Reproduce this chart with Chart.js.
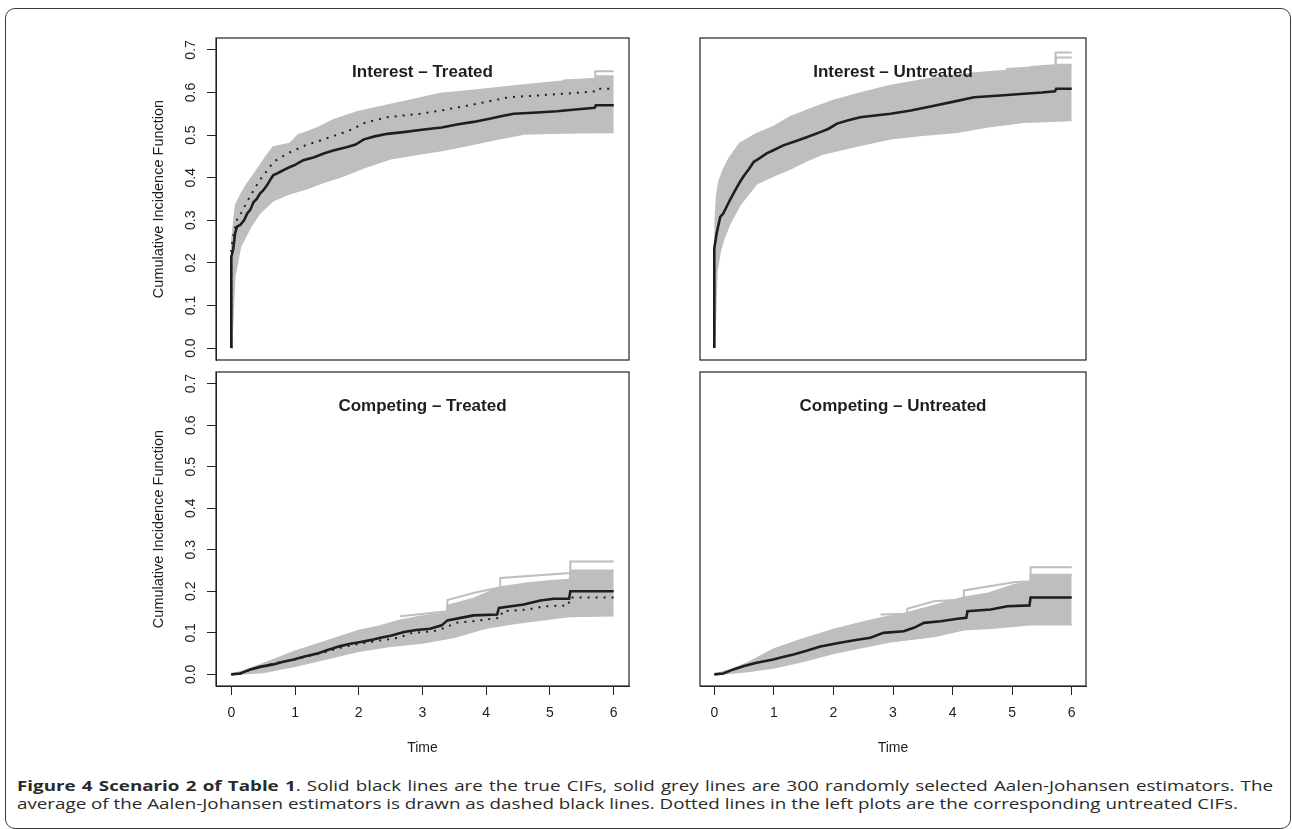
<!DOCTYPE html>
<html lang="en">
<head>
  <meta charset="UTF-8" />
  <title>Figure 4 - Scenario 2 of Table 1</title>
  <script src="https://cdn.jsdelivr.net/npm/chart.js"></script>
  <style>
    body {
      margin: 0;
      background: #fff;
    }
    #page {
      position: relative;
      width: 1292px;
      height: 829px;
      overflow: hidden;
    }
    #frame {
      position: absolute;
      left: 5px;
      top: 8px;
      width: 1286px;
      height: 821px;
      box-sizing: border-box;
      border: 1.5px solid #3a3a3a;
      border-radius: 10px;
    }
    canvas {
      position: absolute;
    }
    #caption {
      position: absolute;
      left: 17px;
      top: 777px;
      font-family: 'Open Sans', 'Noto Sans', sans-serif;
      font-size: 14.5px;
      line-height: 18px;
      color: #2a2a2a;
      transform-origin: 0 0;
    }
    #caption div {
      white-space: nowrap;
    }
    #caption .l1 {
      text-align: justify;
      text-align-last: justify;
    }
  </style>
</head>
<body>
<div id="page">
  <div id="frame"></div>
  <canvas id="tl"></canvas>
  <canvas id="tr"></canvas>
  <canvas id="bl"></canvas>
  <canvas id="br"></canvas>
  <div id="caption">
    <div class="l1"><b>Figure 4 Scenario 2 of Table 1</b>. Solid black lines are the true CIFs, solid grey lines are 300 randomly selected Aalen-Johansen estimators. The</div>
    <div class="l2">average of the Aalen-Johansen estimators is drawn as dashed black lines. Dotted lines in the left plots are the corresponding untreated CIFs.</div>
  </div>
</div>

<script>
// axis ticks
const xTicks = [0, 1, 2, 3, 4, 5, 6];
const yTicks = [0, 0.1, 0.2, 0.3, 0.4, 0.5, 0.6, 0.7];

// Interest - Treated (true CIF + envelope of the grey estimators + stray grey lines)
const intTrtT = [0, 0, 0.03, 0.06, 0.09, 0.14, 0.2, 0.25, 0.3, 0.35, 0.4, 0.45, 0.5, 0.56, 0.61, 0.66, 0.72, 0.77, 0.85, 0.92, 1.0, 1.13, 1.3, 1.45, 1.6, 1.82, 1.95, 2.08, 2.25, 2.45, 2.7, 3.02, 3.3, 3.54, 3.8, 4.07, 4.25, 4.43, 4.8, 5.11, 5.4, 5.7, 5.72, 6];
const intTrtV = [0, 0.214, 0.232, 0.27, 0.285, 0.289, 0.3, 0.316, 0.325, 0.343, 0.35, 0.363, 0.37, 0.382, 0.395, 0.406, 0.41, 0.414, 0.42, 0.425, 0.43, 0.441, 0.448, 0.457, 0.464, 0.472, 0.478, 0.49, 0.497, 0.503, 0.507, 0.513, 0.518, 0.525, 0.531, 0.539, 0.545, 0.55, 0.553, 0.556, 0.56, 0.564, 0.57, 0.57];
const intTrtUpT = [0, 0.01, 0.07, 0.15, 0.25, 0.4, 0.55, 0.66, 0.8, 0.92, 1.05, 1.19, 1.4, 1.6, 1.97, 2.3, 2.7, 3.28, 3.7, 4.07, 4.5, 5.06, 5.4, 5.7, 5.71, 6];
const intTrtUpV = [0, 0.25, 0.335, 0.36, 0.385, 0.417, 0.45, 0.472, 0.476, 0.48, 0.5, 0.507, 0.52, 0.535, 0.554, 0.565, 0.578, 0.597, 0.603, 0.609, 0.616, 0.624, 0.628, 0.632, 0.638, 0.638];
const intTrtLoT = [0, 0.05, 0.14, 0.3, 0.45, 0.66, 0.9, 1.19, 1.45, 1.71, 2.1, 2.5, 2.9, 3.28, 3.7, 4.07, 4.59, 5.0, 5.5, 6];
const intTrtLoV = [0, 0.168, 0.238, 0.285, 0.318, 0.347, 0.362, 0.375, 0.39, 0.402, 0.425, 0.445, 0.455, 0.464, 0.476, 0.488, 0.503, 0.505, 0.506, 0.507];
const intTrtStrayT = [5.2, 5.71, 5.71, 6];
const intTrtStrayV = [0.628, 0.632, 0.65, 0.65];

// Interest - Untreated
const intUntT = [0, 0, 0.04, 0.1, 0.15, 0.2, 0.26, 0.33, 0.43, 0.5, 0.58, 0.66, 0.75, 0.88, 1.0, 1.16, 1.35, 1.55, 1.78, 1.92, 2.06, 2.25, 2.45, 2.7, 2.96, 3.3, 3.63, 4.0, 4.36, 4.8, 5.2, 5.5, 5.72, 5.74, 6];
const intUntV = [0, 0.234, 0.27, 0.308, 0.316, 0.33, 0.347, 0.365, 0.39, 0.405, 0.42, 0.437, 0.445, 0.457, 0.465, 0.476, 0.485, 0.495, 0.507, 0.515, 0.527, 0.535, 0.542, 0.546, 0.55, 0.558, 0.567, 0.578, 0.589, 0.593, 0.597, 0.6, 0.603, 0.609, 0.609];
const intUntUpT = [0, 0.02, 0.04, 0.08, 0.15, 0.25, 0.43, 0.71, 1.0, 1.27, 1.6, 2.0, 2.5, 2.96, 3.6, 4.36, 4.8, 5.2, 5.72, 5.73, 6];
const intUntUpV = [0, 0.3, 0.355, 0.39, 0.417, 0.445, 0.48, 0.503, 0.52, 0.542, 0.56, 0.581, 0.6, 0.616, 0.632, 0.645, 0.65, 0.655, 0.66, 0.665, 0.665];
const intUntLoT = [0, 0.04, 0.1, 0.15, 0.25, 0.43, 0.71, 1.0, 1.27, 1.55, 1.84, 2.4, 2.96, 3.5, 4.08, 4.6, 5.2, 6];
const intUntLoV = [0, 0.18, 0.23, 0.254, 0.29, 0.337, 0.386, 0.405, 0.421, 0.44, 0.457, 0.475, 0.492, 0.5, 0.507, 0.52, 0.531, 0.535];
const intUntStrayT = [4.9, 5.73, 5.73, 6];
const intUntStrayV = [0.655, 0.662, 0.694, 0.694];
const intUntStray2T = [5.3, 5.73, 5.73, 6];
const intUntStray2V = [0.66, 0.664, 0.682, 0.682];

// Competing - Treated
const cmpTrtT = [0, 0.14, 0.3, 0.45, 0.66, 0.8, 0.98, 1.15, 1.35, 1.5, 1.71, 1.85, 2.03, 2.2, 2.34, 2.5, 2.71, 2.9, 3.12, 3.3, 3.39, 3.6, 3.8, 4.17, 4.2, 4.59, 4.85, 5.06, 5.3, 5.32, 6];
const cmpTrtV = [0, 0.002, 0.012, 0.018, 0.024, 0.03, 0.036, 0.043, 0.05, 0.058, 0.068, 0.073, 0.078, 0.083, 0.088, 0.093, 0.102, 0.107, 0.11, 0.118, 0.13, 0.136, 0.142, 0.144, 0.16, 0.168, 0.178, 0.182, 0.182, 0.2, 0.2];
const cmpTrtUpT = [0, 0.2, 0.5, 1.0, 1.5, 2.0, 2.3, 2.65, 3.0, 3.25, 3.38, 3.39, 3.8, 4.22, 4.6, 5.01, 5.31, 5.32, 6];
const cmpTrtUpV = [0, 0.008, 0.025, 0.055, 0.08, 0.105, 0.115, 0.13, 0.14, 0.145, 0.148, 0.165, 0.182, 0.21, 0.218, 0.225, 0.228, 0.25, 0.25];
const cmpTrtLoT = [0, 0.5, 1.0, 1.5, 2.0, 2.5, 3.0, 3.5, 4.0, 4.5, 5.3, 6];
const cmpTrtLoV = [0, 0.005, 0.02, 0.038, 0.056, 0.068, 0.076, 0.09, 0.112, 0.124, 0.14, 0.142];
const cmpTrtStrayT = [2.65, 3.39, 3.39, 3.8, 4.22, 4.22, 5.32, 5.32, 6];
const cmpTrtStrayV = [0.14, 0.152, 0.179, 0.196, 0.21, 0.232, 0.244, 0.272, 0.272];

// Competing - Untreated
const cmpUntT = [0, 0.15, 0.32, 0.5, 0.71, 0.99, 1.15, 1.33, 1.55, 1.78, 2.11, 2.35, 2.62, 2.84, 3.18, 3.35, 3.52, 3.8, 4.08, 4.23, 4.25, 4.64, 4.92, 5.29, 5.31, 6];
const cmpUntV = [0, 0.002, 0.012, 0.02, 0.028, 0.036, 0.042, 0.048, 0.057, 0.067, 0.076, 0.082, 0.088, 0.1, 0.104, 0.112, 0.124, 0.128, 0.134, 0.136, 0.152, 0.156, 0.164, 0.166, 0.185, 0.185];
const cmpUntUpT = [0, 0.3, 0.6, 0.99, 1.5, 2.02, 2.4, 2.79, 3.24, 3.69, 4.19, 4.6, 5.03, 5.3, 5.31, 6];
const cmpUntUpV = [0, 0.012, 0.03, 0.06, 0.085, 0.108, 0.122, 0.135, 0.148, 0.165, 0.185, 0.195, 0.215, 0.222, 0.24, 0.24];
const cmpUntLoT = [0, 0.5, 0.99, 1.5, 2.02, 2.5, 3.0, 3.69, 4.19, 4.7, 5.3, 6];
const cmpUntLoV = [0, 0.006, 0.016, 0.032, 0.052, 0.066, 0.08, 0.092, 0.108, 0.112, 0.12, 0.12];
const cmpUntStrayT = [2.79, 3.24, 3.24, 3.69, 4.19, 4.19, 5.03, 5.31, 5.31, 6];
const cmpUntStrayV = [0.144, 0.146, 0.158, 0.176, 0.18, 0.202, 0.222, 0.224, 0.258, 0.258];

const FONT = "'Liberation Sans', Arial, Helvetica, sans-serif";
const INK = '#1e1e1e';
const GREY = '#bebebe';

const xy = (ts, vs) => ts.map((t, i) => ({ x: t, y: vs[i] }));

// box round the plot region + title inside it (R style)
const panelDecor = {
  id: 'panelDecor',
  afterDatasetsDraw(chart, args, opts) {
    const { ctx, chartArea: a } = chart;
    ctx.save();
    ctx.strokeStyle = '#222';
    ctx.lineWidth = 1.2;
    ctx.strokeRect(a.left, a.top, a.right - a.left, a.bottom - a.top);
    ctx.fillStyle = INK;
    ctx.font = 'bold 17px ' + FONT;
    ctx.textAlign = 'center';
    ctx.textBaseline = 'alphabetic';
    ctx.fillText(opts.title, (a.left + a.right) / 2, a.top + 39);
    ctx.restore();
  }
};

function makePanel(p) {
  const canvas = document.getElementById(p.id);
  const w = p.box.r - p.box.l, h = p.box.b - p.box.t;
  const padB = p.xAxis ? 90 : 16;
  canvas.width = w + 100;
  canvas.height = h + 16 + padB;
  canvas.style.left = (p.box.l - 90) + 'px';
  canvas.style.top = (p.box.t - 16) + 'px';

  const datasets = [{
    label: 'true',
    data: xy(p.trueT, p.trueV),
    borderColor: INK,
    borderWidth: 2.6,
    fill: false
  }];
  if (p.dotT) {
    datasets.push({
      label: 'untreated',
      data: xy(p.dotT, p.dotV),
      borderColor: INK,
      borderWidth: 2,
      borderDash: [2, 6],
      fill: false
    });
  }
  (p.stray || []).forEach(([ts, vs], i) => {
    datasets.push({
      label: 'estimator ' + (i + 1),
      data: xy(ts, vs),
      borderColor: GREY,
      borderWidth: 2,
      fill: false
    });
  });
  datasets.push({
    label: 'upper',
    data: xy(p.upT, p.upV),
    borderColor: GREY,
    backgroundColor: GREY,
    borderWidth: 2,
    fill: '+1'
  }, {
    label: 'lower',
    data: xy(p.loT, p.loV),
    borderColor: GREY,
    borderWidth: 2,
    fill: false
  });

  const tickFont = { family: FONT, size: 14 };

  return new Chart(canvas.getContext('2d'), {
    type: 'line',
    data: { datasets },
    options: {
      responsive: false,
      animation: false,
      events: [],
      elements: { point: { radius: 0 }, line: { tension: 0 } },
      layout: {
        padding: { left: p.yAxis ? 14 : 90, top: 16, right: 10, bottom: p.xAxis ? 10 : 16 }
      },
      plugins: {
        legend: { display: false },
        tooltip: { enabled: false },
        panelDecor: { title: p.title }
      },
      scales: {
        x: {
          type: 'linear',
          min: -0.24,
          max: 6.24,
          display: p.xAxis,
          afterBuildTicks: s => { s.ticks = xTicks.map(v => ({ value: v })); },
          afterFit: s => { if (p.xAxis) s.height = 80; },
          grid: { drawOnChartArea: false, drawTicks: true, tickLength: 9, color: '#222' },
          border: { display: true, color: '#222' },
          ticks: { autoSkip: false, padding: 10, color: INK, font: tickFont, maxRotation: 0, callback: v => String(v) },
          title: { display: true, text: 'Time', color: INK, font: tickFont, padding: { top: 0, bottom: 9 } }
        },
        y: {
          type: 'linear',
          min: -0.028,
          max: 0.728,
          display: p.yAxis,
          afterBuildTicks: s => { s.ticks = yTicks.map(v => ({ value: v })); },
          afterFit: s => { if (p.yAxis) s.width = 76; },
          grid: { drawOnChartArea: false, drawTicks: true, tickLength: 9, color: '#222' },
          border: { display: true, color: '#222' },
          ticks: { autoSkip: false, padding: 6, color: INK, font: tickFont, minRotation: 90, maxRotation: 90, crossAlign: 'center', callback: v => v.toFixed(1) },
          title: { display: true, text: 'Cumulative Incidence Function', color: INK, font: { family: FONT, size: 14.5 }, padding: { top: 10, bottom: 0 } }
        }
      }
    },
    plugins: [panelDecor]
  });
}

makePanel({ id: 'tl', box: { l: 216, t: 38, r: 629, b: 360 }, yAxis: true, xAxis: false, title: 'Interest \u2013 Treated',
  trueT: intTrtT, trueV: intTrtV, dotT: intUntT, dotV: intUntV, upT: intTrtUpT, upV: intTrtUpV, loT: intTrtLoT, loV: intTrtLoV,
  stray: [[intTrtStrayT, intTrtStrayV]] });
makePanel({ id: 'tr', box: { l: 700, t: 38, r: 1086, b: 360 }, yAxis: false, xAxis: false, title: 'Interest \u2013 Untreated',
  trueT: intUntT, trueV: intUntV, upT: intUntUpT, upV: intUntUpV, loT: intUntLoT, loV: intUntLoV,
  stray: [[intUntStrayT, intUntStrayV], [intUntStray2T, intUntStray2V]] });
makePanel({ id: 'bl', box: { l: 216, t: 372, r: 629, b: 686 }, yAxis: true, xAxis: true, title: 'Competing \u2013 Treated',
  trueT: cmpTrtT, trueV: cmpTrtV, dotT: cmpUntT, dotV: cmpUntV, upT: cmpTrtUpT, upV: cmpTrtUpV, loT: cmpTrtLoT, loV: cmpTrtLoV,
  stray: [[cmpTrtStrayT, cmpTrtStrayV]] });
makePanel({ id: 'br', box: { l: 700, t: 372, r: 1086, b: 686 }, yAxis: false, xAxis: true, title: 'Competing \u2013 Untreated',
  trueT: cmpUntT, trueV: cmpUntV, upT: cmpUntUpT, upV: cmpUntUpV, loT: cmpUntLoT, loV: cmpUntLoV,
  stray: [[cmpUntStrayT, cmpUntStrayV]] });

// squeeze the caption so its lines end where the original ones do
function fitCaption() {
  const cap = document.getElementById('caption');
  const l1 = cap.querySelector('.l1');
  const l2 = cap.querySelector('.l2');
  cap.style.transform = 'none';
  l1.style.width = 'auto';
  l2.style.display = 'inline-block';
  const w2 = l2.getBoundingClientRect().width;
  l2.style.display = 'block';
  const k = 1221 / w2;
  l1.style.width = (1256 / k) + 'px';
  cap.style.transform = 'scaleX(' + k + ')';
}
fitCaption();
if (document.fonts && document.fonts.ready) document.fonts.ready.then(fitCaption);
</script>
</body>
</html>
